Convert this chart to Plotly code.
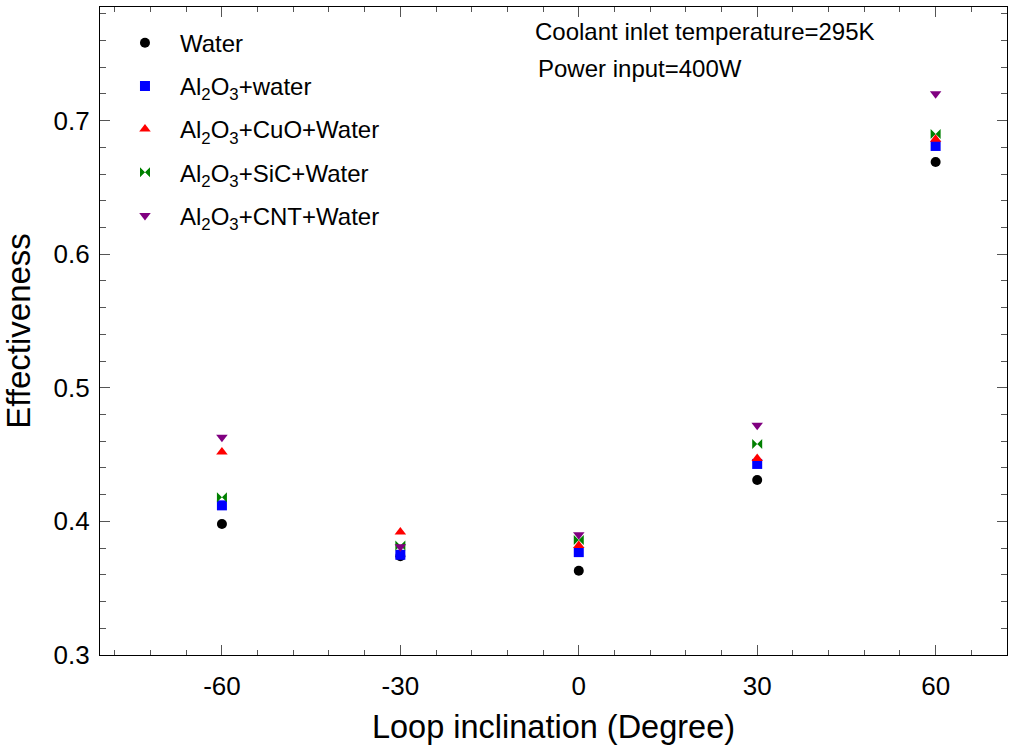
import plotly.graph_objects as go

# Loop inclination angles (degrees)
inclination = [-60, -30, 0, 30, 60]

# Effectiveness for each working fluid
water = [0.398, 0.374, 0.363, 0.431, 0.669]
al2o3_water = [0.412, 0.375, 0.377, 0.443, 0.681]
al2o3_cuo_water = [0.452, 0.392, 0.382, 0.447, 0.686]
al2o3_sic_water = [0.418, 0.382, 0.386, 0.458, 0.690]
al2o3_cnt_water = [0.463, 0.381, 0.390, 0.472, 0.720]

FONT = "Arial, Liberation Sans, sans-serif"

# (name, values, colour, symbol, legend rank) in drawing order
series = [
    ("Water", water, "black", "circle", 1),
    ("Al<sub>2</sub>O<sub>3</sub>+water", al2o3_water, "#0000ff", "square", 2),
    ("Al<sub>2</sub>O<sub>3</sub>+SiC+Water", al2o3_sic_water, "#008000", "bowtie", 4),
    ("Al<sub>2</sub>O<sub>3</sub>+CuO+Water", al2o3_cuo_water, "#ff0000", "triangle-up", 3),
    ("Al<sub>2</sub>O<sub>3</sub>+CNT+Water", al2o3_cnt_water, "#800080", "triangle-down", 5),
]

fig = go.Figure()
for name, vals, color, symbol, rank in series:
    fig.add_trace(go.Scatter(
        x=inclination, y=vals, mode="markers", name=name,
        legendgroup=name, legendrank=rank,
        marker=dict(color=color, symbol=symbol, size=10, line=dict(width=0)),
    ))

axis_common = dict(
    showline=True, linecolor="black", linewidth=1.2, mirror="allticks",
    ticks="inside", tickcolor="#555", ticklen=10, tickwidth=1.2,
    showgrid=False, zeroline=False,
    tickfont=dict(family=FONT, size=26, color="black"),
)

fig.update_xaxes(
    range=[-80.5, 72], tickvals=[-60, -30, 0, 30, 60],
    ticktext=["-60", "-30", "0", "30", "60"],
    minor=dict(dtick=6, tick0=0, ticks="inside", ticklen=5, tickcolor="#555", tickwidth=1),
    title=dict(text="Loop inclination (Degree)", font=dict(family=FONT, size=32.5, color="black"),
               standoff=14),
    ticklabelstandoff=8,
    **axis_common,
)
fig.update_yaxes(
    range=[0.3, 0.785], tickvals=[0.3, 0.4, 0.5, 0.6, 0.7],
    ticktext=["0.3", "0.4", "0.5", "0.6", "0.7"],
    minor=dict(dtick=0.02, tick0=0.3, ticks="inside", ticklen=6, tickcolor="#555", tickwidth=1),
    title=dict(text="Effectiveness", font=dict(family=FONT, size=33, color="black"), standoff=12),
    ticklabelstandoff=4,
    **axis_common,
)

# Operating-condition notes in the upper part of the plot
fig.add_annotation(text="Coolant inlet temperature=295K", xref="paper", yref="paper",
                   x=(533 - 100) / 907, y=1 - (32 - 7) / 648, xanchor="left", yanchor="middle",
                   showarrow=False, font=dict(family=FONT, size=24, color="black"))
fig.add_annotation(text="Power input=400W", xref="paper", yref="paper",
                   x=(536 - 100) / 907, y=1 - (69 - 7) / 648, xanchor="left", yanchor="middle",
                   showarrow=False, font=dict(family=FONT, size=24, color="black"))

fig.update_layout(
    width=1011, height=751,
    margin=dict(l=100, r=4, t=7, b=96),
    plot_bgcolor="white", paper_bgcolor="white",
    legend=dict(x=0.011, y=0.979, xanchor="left", yanchor="top",
                bgcolor="rgba(0,0,0,0)", font=dict(family=FONT, size=24, color="black"),
                traceorder="grouped", tracegroupgap=9, itemwidth=60),
    showlegend=True,
)

fig.write_html("out.html")
